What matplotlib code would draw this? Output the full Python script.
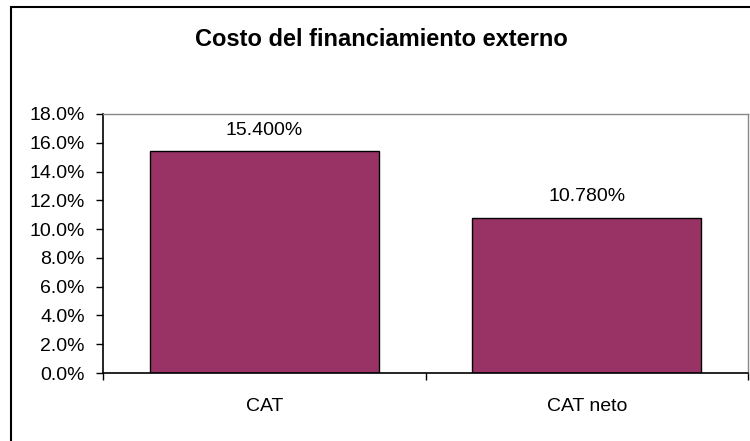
import matplotlib
matplotlib.use("Agg")
import matplotlib.pyplot as plt
from matplotlib.patches import Rectangle
from matplotlib.ticker import FuncFormatter, FixedLocator

plt.rcParams['font.family'] = ['Liberation Sans', 'DejaVu Sans']

categories = ["CAT", "CAT neto"]
values = [15.400, 10.780]
labels = ["15.400%", "10.780%"]
yticks = [0, 2, 4, 6, 8, 10, 12, 14, 16, 18]

fig = plt.figure(figsize=(7.5, 4.41), dpi=100)
ax = fig.add_axes([103/750, 1-373/441, (748-103)/750, (373-114)/441])

x = list(range(len(categories)))
bars = ax.bar(x, values, width=0.71, color="#993366", edgecolor="black", linewidth=1.0, zorder=2)

ax.set_xlim(-0.5, len(categories) - 0.5)
ax.set_ylim(0, 18)
ax.set_yticks(yticks)
ax.yaxis.set_major_formatter(FuncFormatter(lambda v, p: f"{v:.1f}%"))
ax.tick_params(axis='y', direction='out', length=5, width=1, pad=8, labelsize=14)

ax.set_xticks(x)
ax.set_xticklabels(categories)
ax.tick_params(axis='x', which='major', length=0, pad=18, labelsize=14)
ax.xaxis.set_minor_locator(FixedLocator([i - 0.5 for i in range(len(categories) + 1)]))
ax.tick_params(axis='x', which='minor', direction='out', length=5, width=1)

for s in ['left', 'bottom']:
    ax.spines[s].set_color('black')
    ax.spines[s].set_linewidth(1.2)
for s in ['top', 'right']:
    ax.spines[s].set_color('#888888')
    ax.spines[s].set_linewidth(1.0)

for xi, v, lab in zip(x, values, labels):
    ax.annotate(lab, (xi, v), xytext=(0, 12), textcoords='offset points',
                ha='center', va='baseline', fontsize=14)

fig.text(381.5/750, 1-40/441, "Costo del financiamiento externo", ha='center', va='center',
         fontsize=17, fontweight='bold')

fig.patches.append(Rectangle((10.5/750, -0.1), 1.2, 1 - 6.5/441 + 0.1, transform=fig.transFigure,
                             fill=False, edgecolor='black', linewidth=1.5))

fig.savefig("out.png", dpi=100)
